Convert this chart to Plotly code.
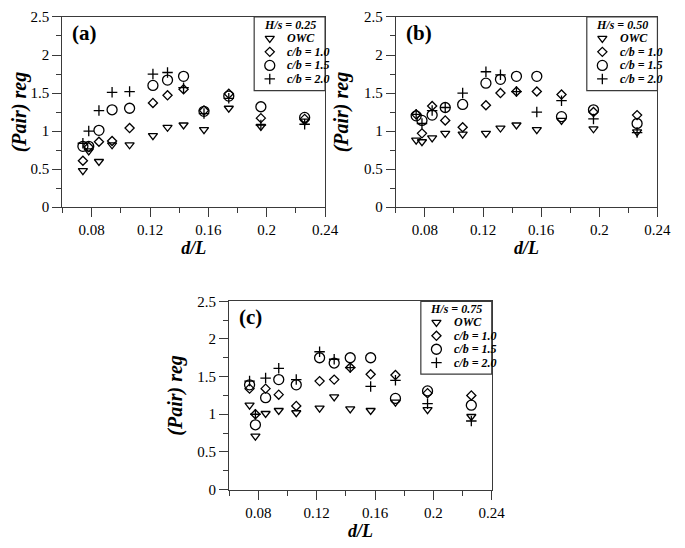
import plotly.graph_objects as go

# ---------------- data ----------------
d_over_L = [0.074, 0.078, 0.085, 0.094, 0.106, 0.122, 0.132, 0.143, 0.157, 0.174, 0.196, 0.226]
series_names = ["OWC", "c/b = 1.0", "c/b = 1.5", "c/b = 2.0"]
panel_labels = ["(a)", "(b)", "(c)"]
panel_titles = ["H/s = 0.25", "H/s = 0.50", "H/s = 0.75"]

a_owc = [0.48, 0.74, 0.60, 0.82, 0.82, 0.94, 1.05, 1.08, 1.02, 1.30, 1.06, 1.13]
a_cb10 = [0.61, 0.79, 0.86, 0.87, 1.04, 1.37, 1.47, 1.55, 1.27, 1.49, 1.17, 1.16]
a_cb15 = [0.80, 0.80, 1.01, 1.28, 1.30, 1.60, 1.67, 1.72, 1.26, 1.46, 1.32, 1.18]
a_cb20 = [0.84, 1.00, 1.27, 1.51, 1.52, 1.75, 1.77, 1.57, 1.23, 1.43, 1.08, 1.09]

b_owc = [0.88, 0.86, 0.91, 0.97, 0.96, 0.97, 1.04, 1.08, 1.02, 1.14, 1.03, 0.99]
b_cb10 = [1.22, 0.97, 1.33, 1.14, 1.05, 1.34, 1.50, 1.52, 1.52, 1.48, 1.25, 1.21]
b_cb15 = [1.20, 1.14, 1.21, 1.31, 1.35, 1.63, 1.68, 1.72, 1.72, 1.19, 1.28, 1.10]
b_cb20 = [1.22, 1.10, 1.27, 1.31, 1.50, 1.78, 1.74, 1.52, 1.25, 1.40, 1.16, 0.98]

c_owc = [1.12, 0.71, 1.01, 1.05, 1.02, 1.08, 1.23, 1.07, 1.05, 1.16, 1.06, 0.97]
c_cb10 = [1.34, 1.00, 1.34, 1.26, 1.11, 1.44, 1.46, 1.62, 1.53, 1.52, 1.28, 1.25]
c_cb15 = [1.39, 0.86, 1.22, 1.46, 1.39, 1.75, 1.68, 1.75, 1.75, 1.21, 1.31, 1.12]
c_cb20 = [1.44, 1.00, 1.48, 1.61, 1.46, 1.83, 1.73, 1.62, 1.37, 1.45, 1.14, 0.91]

x_tick_vals = [0.08, 0.12, 0.16, 0.20, 0.24]
x_tick_text = ["0.08", "0.12", "0.16", "0.2", "0.24"]
y_tick_vals = [0, 0.5, 1, 1.5, 2, 2.5]
y_tick_text = ["0", "0.5", "1", "1.5", "2", "2.5"]
x_range = [0.06, 0.24]
y_range = [0, 2.5]

panels = [
    [a_owc, a_cb10, a_cb15, a_cb20],
    [b_owc, b_cb10, b_cb15, b_cb20],
    [c_owc, c_cb10, c_cb15, c_cb20],
]

# ---------------- styling / layout ----------------
VIEW_W, VIEW_H = 685, 548
BODY_MARGIN = 8                      # default page margin around the plot div
W, H = VIEW_W - BODY_MARGIN, VIEW_H - BODY_MARGIN
# panel plot areas in window pixels: (left, right, top, bottom)
panel_px = [(57, 328, 9, 205), (401, 671, 9, 205), (229, 500, 302, 496)]
symbols = ["triangle-down-open", "diamond-open", "circle-open", "cross-thin-open"]
sizes = [8, 7, 10, 7.5]
FONT = "Liberation Serif, Times New Roman, Times, serif"
AXC = "#3a3a3a"

fig = go.Figure()

# legend box geometry, as fractions of a panel's plot area
LB_X0, LB_Y0 = 0.73, 0.613
LEG_TITLE_Y = 0.895
LEG_ROWS = [0.71, 0.526, 0.342, 0.158]
LEG_MARK_X = 0.22
LEG_TEXT_X = 0.44


def to_dom(fx, fy):
    return LB_X0 + fx * (1 - LB_X0), LB_Y0 + fy * (1 - LB_Y0)


for i, (series, (l, r, t, b)) in enumerate(zip(panels, panel_px)):
    n = "" if i == 0 else str(i + 1)
    xa, ya = "x" + n, "y" + n
    for k, yv in enumerate(series):
        fig.add_trace(go.Scatter(
            x=d_over_L, y=yv, mode="markers", name=series_names[k],
            xaxis=xa, yaxis=ya, showlegend=False, cliponaxis=False,
            marker=dict(symbol=symbols[k], size=sizes[k], color="black",
                        line=dict(color="black", width=1.3)),
        ))
    # legend keys: map legend-box fractions into data coordinates
    for k in range(4):
        fxd, fyd = to_dom(LEG_MARK_X, LEG_ROWS[k])
        fig.add_trace(go.Scatter(
            x=[x_range[0] + fxd * (x_range[1] - x_range[0])],
            y=[y_range[0] + fyd * (y_range[1] - y_range[0])],
            mode="markers", xaxis=xa, yaxis=ya, showlegend=False,
            hoverinfo="skip", cliponaxis=False,
            marker=dict(symbol=symbols[k], size=sizes[k], color="black",
                        line=dict(color="black", width=1.3)),
        ))
        tx, ty = to_dom(LEG_TEXT_X, LEG_ROWS[k])
        fig.add_annotation(xref=xa + " domain", yref=ya + " domain", x=tx, y=ty,
                           text="<b><i>" + series_names[k] + "</i></b>", showarrow=False,
                           xanchor="left", yanchor="middle",
                           font=dict(family=FONT, size=12, color="black"))
    tx, ty = to_dom(0.5, LEG_TITLE_Y)
    fig.add_annotation(xref=xa + " domain", yref=ya + " domain", x=tx, y=ty,
                       text="<b><i>" + panel_titles[i] + "</i></b>", showarrow=False,
                       xanchor="center", yanchor="middle",
                       font=dict(family=FONT, size=12, color="black"))
    fig.add_shape(type="rect", xref=xa + " domain", yref=ya + " domain",
                  x0=LB_X0, x1=1, y0=LB_Y0, y1=1, line=dict(color=AXC, width=1.2))
    # panel label
    fig.add_annotation(xref=xa + " domain", yref=ya + " domain", x=0.03, y=0.915,
                       text="<b>" + panel_labels[i] + "</b>", showarrow=False,
                       xanchor="left", yanchor="middle",
                       font=dict(family=FONT, size=21, color="black"))

    xdom = [(l - BODY_MARGIN) / W, (r - BODY_MARGIN) / W]
    ydom = [1 - (b - BODY_MARGIN) / H, 1 - (t - BODY_MARGIN) / H]
    common = dict(showgrid=False, zeroline=False, showline=True, mirror=True,
                  linecolor=AXC, linewidth=1.3, ticks="outside", tickcolor=AXC,
                  tickwidth=1.3, ticklen=9,
                  tickfont=dict(family=FONT, size=15, color="black"))
    fig.layout["xaxis" + n] = dict(
        domain=xdom, anchor=ya, range=x_range, tickmode="array",
        tickvals=x_tick_vals, ticktext=x_tick_text,
        minor=dict(dtick=0.02, tick0=0.06, ticks="outside", ticklen=5,
                   tickcolor=AXC, tickwidth=1.3),
        title=dict(text="d/L", standoff=4,
                   font=dict(family=FONT, size=18, color="black",
                             weight="bold", style="italic")),
        **common)
    fig.layout["yaxis" + n] = dict(
        domain=ydom, anchor=xa, range=y_range, tickmode="array",
        tickvals=y_tick_vals, ticktext=y_tick_text,
        minor=dict(dtick=0.25, tick0=0, ticks="outside", ticklen=5,
                   tickcolor=AXC, tickwidth=1.3),
        title=dict(text="(Pair) reg", standoff=9,
                   font=dict(family=FONT, size=20, color="black",
                             weight="bold", style="italic")),
        **common)

fig.update_layout(width=W, height=H, margin=dict(l=0, r=0, t=0, b=0),
                  plot_bgcolor="white", paper_bgcolor="white", showlegend=False)

fig.write_html("out.html")
